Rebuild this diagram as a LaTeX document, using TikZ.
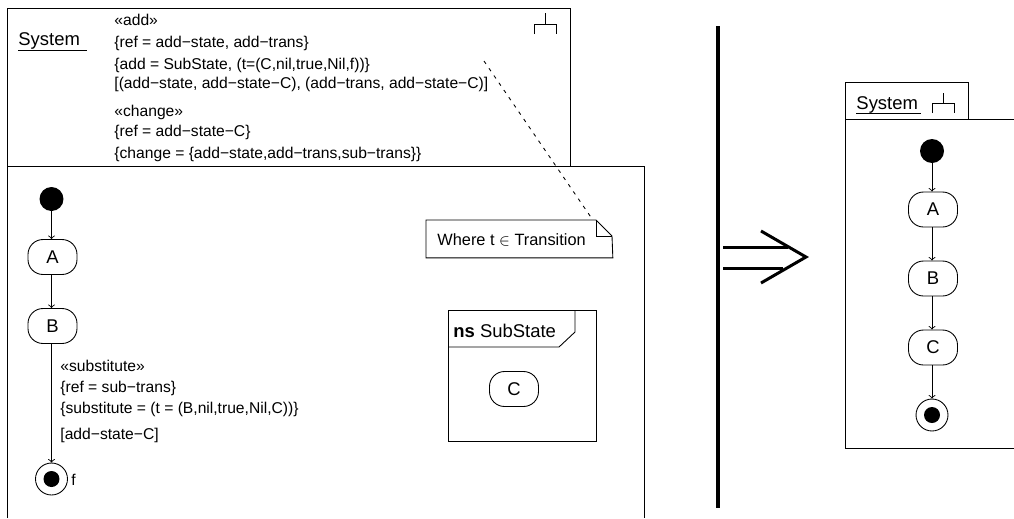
\documentclass[tikz,border=0pt]{standalone}
\usepackage{fontspec}
\setmainfont{Liberation Sans}
\tikzset{
  plain/.style={line width=0.5pt},
  statebox/.style={draw, plain, rectangle, rounded corners=0.3cm, minimum width=0.98cm, minimum height=0.7cm, inner sep=0pt, font=\fontsize{10.5}{12}\selectfont},
  initdot/.style={circle, fill=black, minimum size=0.48cm, inner sep=0pt},
  finalring/.style={draw, plain, circle, minimum size=0.64cm, inner sep=0pt},
  finaldot/.style={circle, fill=black, minimum size=0.32cm, inner sep=0pt},
  smalltext/.style={anchor=base west, inner sep=0pt, font=\fontsize{8.9}{10}\selectfont},
  bigtext/.style={anchor=base west, inner sep=0pt, font=\fontsize{10.5}{12}\selectfont},
  flow/.style={plain, ->, >=to},
  bigarrow/.style={line width=1.7pt}
}
\begin{document}
\begin{tikzpicture}[x=0.02cm, y=-0.02cm, plain]
    \useasboundingbox (0,0) rectangle (1014,518);

    % left frame
    \node[draw, plain, rectangle, anchor=north west, minimum width=11.26cm, minimum height=3.16cm, inner sep=0pt] (sysbox) at (7,8) {};
    \draw (7,518) -- (7,166) -- (644,166) -- (644,518);

    % left title and icon
    \node[bigtext] (systitle) at (18,45) {System};
    \coordinate (sysline) at (87,50);
    \draw (18,50) -- (sysline);
    \draw (545,13) -- (545,24);
    \draw (534,34) -- (534,24) -- (556,24) -- (556,34);

    % add and change
    \node[smalltext] (addtag) at (114,25) {«add»};
    \node[smalltext] (addref) at (114,47) {\{ref = add−state, add−trans\}};
    \node[smalltext] (addval) at (114,69) {\{add = SubState, (t=(C,nil,true,Nil,f))\}};
    \node[smalltext] (addcond) at (114,88) {[(add−state, add−state−C), (add−trans, add−state−C)]};
    \node[smalltext] (chgtag) at (114,116) {«change»};
    \node[smalltext] (chgref) at (114,136) {\{ref = add−state−C\}};
    \node[smalltext] (chgval) at (114,158) {\{change = \{add−state,add−trans,sub−trans\}\}};

    % left states
    \node[initdot] (init1) at (51.5,199) {};
    \node[statebox] (a1) at (52.5,257) {A};
    \node[statebox] (b1) at (52.5,326) {B};
    \node[finalring] (end1) at (51.5,479) {};
    \node[finaldot] (enddot1) at (51.5,479) {};
    \node[smalltext] (endname) at (71,485) {f};

    \draw[flow] (init1) -- (a1.north -| init1);
    \draw[flow] (a1.south -| init1) -- (b1.north -| init1);
    \draw[flow] (b1.south -| init1) -- (end1);

    % substitute
    \node[smalltext] (subtag) at (60,371) {«substitute»};
    \node[smalltext] (subref) at (60,392) {\{ref = sub−trans\}};
    \node[smalltext] (subval) at (60,413) {\{substitute = (t = (B,nil,true,Nil,C))\}};
    \node[smalltext] (subcond) at (60,439) {[add−state−C]};

    % note
    \node[rectangle, anchor=north west, minimum width=3.72cm, minimum height=0.74cm, inner sep=0pt] (note) at (426,220) {};
    \draw (note.north west) -- (596,220) -- (612,236) -- (note.south east) -- (note.south west) -- cycle;
    \draw (596,220) -- (596,236) -- (612,236);
    \node[smalltext, font=\fontsize{9.3}{10}\selectfont] (notetext) at (437,245) {Where t $\in$ Transition};
    \coordinate (noteend) at (484,61);
    \draw[dash pattern=on 2pt off 3pt] (noteend) -- ([xshift=-0.4cm]note.north east);

    % namespace box
    \node[draw, plain, rectangle, anchor=north west, minimum width=2.96cm, minimum height=2.62cm, inner sep=0pt] (nsbox) at (448,310) {};
    \draw (575,310) -- (575,332) -- (559,347) -- (448,347);
    \node[bigtext] (nstitle) at (453,337) {\textbf{ns} SubState};
    \node[statebox] (c1) at (514,389) {C};

    % separator and arrow
    \node[rectangle, fill=black, minimum width=0.08cm, minimum height=9.64cm, inner sep=0pt] (divider) at (718,267) {};
    \coordinate (tip) at (806,257);
    \draw[bigarrow] (723,247) -- (788,247);
    \draw[bigarrow] (723,268) -- (783,268);
    \draw[bigarrow] (761,231) -- (tip) -- (761,283);

    % right frame
    \node[draw, plain, rectangle, anchor=north west, minimum width=2.46cm, minimum height=0.74cm, inner sep=0pt] (tabbox) at (845,82) {};
    \draw (1014,119) -- (845,119) -- (845,448) -- (1014,448);
    \node[bigtext] (systitle2) at (856,109) {System};
    \draw (856,113) -- (921,113);
    \draw (943,93) -- (943,103);
    \draw (932,113) -- (932,103) -- (954,103) -- (954,113);

    % right states
    \node[initdot] (init2) at (932,151) {};
    \node[statebox] (a2) at (933,209.5) {A};
    \node[statebox] (b2) at (933,278.5) {B};
    \node[statebox] (c2) at (933,347.5) {C};
    \node[finalring] (end2) at (932,415) {};
    \node[finaldot] (enddot2) at (932,415) {};

    \draw[flow] (init2) -- (a2.north -| init2);
    \draw[flow] (a2.south -| init2) -- (b2.north -| init2);
    \draw[flow] (b2.south -| init2) -- (c2.north -| init2);
    \draw[flow] (c2.south -| init2) -- (end2);
\end{tikzpicture}
\end{document}
